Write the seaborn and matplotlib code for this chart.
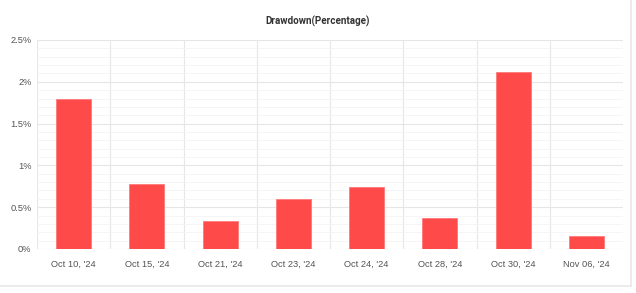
import matplotlib
matplotlib.use("Agg")
import matplotlib.pyplot as plt
import seaborn as sns
import pandas as pd
from matplotlib.ticker import FixedLocator, MultipleLocator, FuncFormatter
from matplotlib.patches import Rectangle

dates = ["Oct 10, '24", "Oct 15, '24", "Oct 21, '24", "Oct 23, '24",
         "Oct 24, '24", "Oct 28, '24", "Oct 30, '24", "Nov 06, '24"]
drawdown = [1.79, 0.775, 0.34, 0.595, 0.745, 0.367, 2.117, 0.16]
yticks = [0, 0.5, 1, 1.5, 2, 2.5]

sns.set_theme(style="white")
plt.rcParams['font.family'] = ['Liberation Sans', 'DejaVu Sans']

df = pd.DataFrame({"date": dates, "dd": drawdown})

fig = plt.figure(figsize=(6.36, 2.93), dpi=100)
ax = fig.add_axes([37/636, 1-249/293, (623-37)/636, (249-40)/293])

sns.barplot(data=df, x="date", y="dd", ax=ax, color="#ff4a4a", width=0.48,
            edgecolor="#ff7a7a", linewidth=0.6, saturation=1, zorder=3)

ax.set_xlim(-0.5, len(dates) - 0.5)
ax.set_ylim(0, 2.5)
ax.set_yticks(yticks)
ax.yaxis.set_major_formatter(FuncFormatter(lambda v, p: f"{v:g}%"))
ax.yaxis.set_minor_locator(MultipleLocator(0.1))
ax.xaxis.set_minor_locator(FixedLocator([i - 0.5 for i in range(len(dates) + 1)]))

ax.grid(False)
ax.grid(which="major", axis="y", color="#e6e6e6", linewidth=0.8, zorder=0)
ax.grid(which="minor", axis="y", color="#f4f4f4", linewidth=0.6, zorder=0)
ax.grid(which="minor", axis="x", color="#e6e6e6", linewidth=0.8, zorder=0)
for s in ax.spines.values():
    s.set_visible(False)

ax.tick_params(axis="both", which="both", length=0, labelsize=6.7, labelcolor="#555555")
ax.tick_params(axis="x", pad=7.5)
ax.tick_params(axis="y", pad=4)
ax.set_xlabel("")
ax.set_ylabel("")

fig.text(0.5, 1 - 21/293, "Drawdown(Percentage)", ha="center", va="center",
         fontsize=7.1, fontweight="bold", color="#333333", family="Roboto")

fig.add_artist(Rectangle((-0.01, 1 - 286/293), 631/636 + 0.01, 286/293 + 0.02,
                         transform=fig.transFigure, fill=False,
                         edgecolor="#e8e8e8", linewidth=1.2))

fig.savefig("out.png", dpi=100)
